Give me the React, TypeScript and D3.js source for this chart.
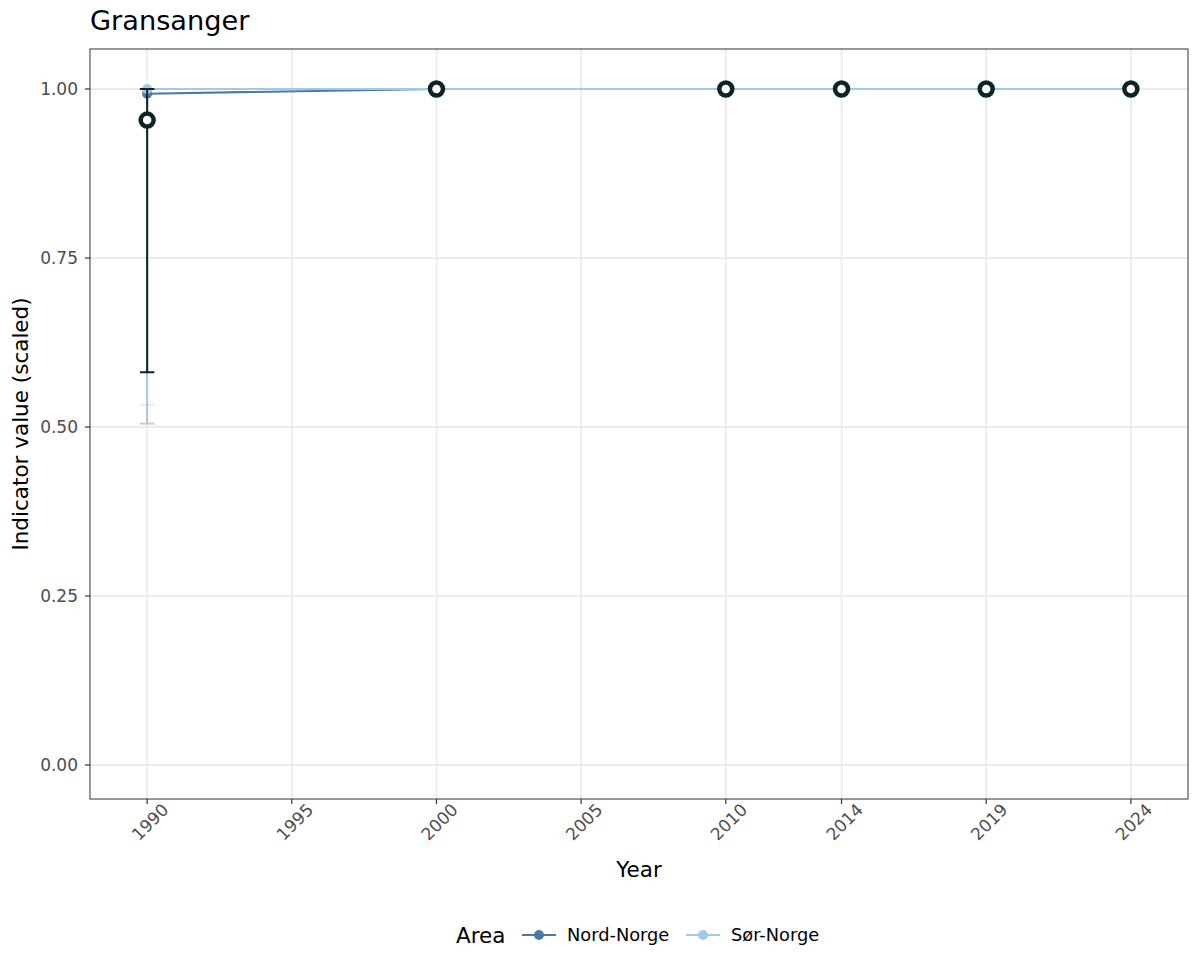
import React from "react";
import * as d3 from "d3";

const title = "Gransanger";
const years = [1990, 2000, 2010, 2014, 2019, 2024];
const xTicks = [1990, 1995, 2000, 2005, 2010, 2014, 2019, 2024];
const yTicks = [0, 0.25, 0.5, 0.75, 1.0];

const overallValue = [0.954, 1, 1, 1, 1, 1];
const overallLow = [0.581, 1, 1, 1, 1, 1];
const overallHigh = [1, 1, 1, 1, 1, 1];

const nordValue = [0.993, 1, 1, 1, 1, 1];
const nordLow = [0.505, 1, 1, 1, 1, 1];
const nordHigh = [1, 1, 1, 1, 1, 1];

const sorValue = [1, 1, 1, 1, 1, 1];
const sorLow = [0.533, 1, 1, 1, 1, 1];
const sorHigh = [1, 1, 1, 1, 1, 1];

const areaNames = ["Nord-Norge", "Sør-Norge"];
const areaColors = ["#4e79a7", "#a0cbe8"];

const W = 1200;
const H = 975;
const panel = { left: 90, right: 1188, top: 49, bottom: 799 };
const font = "'DejaVu Sans', sans-serif";

export default function App() {
  const x = d3.scaleLinear().domain([1988.025, 2025.975]).range([panel.left, panel.right]);
  const y = d3.scaleLinear().domain([-34 / 676, 1 + 40 / 676]).range([panel.bottom, panel.top]);
  const capHalf = (x(1990.25) - x(1990));

  const series = [
    { name: areaNames[0], color: areaColors[0], v: nordValue, lo: nordLow, hi: nordHigh },
    { name: areaNames[1], color: areaColors[1], v: sorValue, lo: sorLow, hi: sorHigh },
  ];
  const line = d3.line<number>().x((_, i) => x(years[i])).y((d) => y(d));

  const errorBar = (i: number, lo: number[], hi: number[], color: string, sw: number, op: number, key: string) => {
    if (lo[i] === hi[i]) return null;
    const cx = x(years[i]);
    return (
      <g key={key} stroke={color} strokeWidth={sw} opacity={op}>
        <line x1={cx} x2={cx} y1={y(hi[i])} y2={y(lo[i])} />
        <line x1={cx - capHalf} x2={cx + capHalf} y1={y(hi[i])} y2={y(hi[i])} />
        <line x1={cx - capHalf} x2={cx + capHalf} y1={y(lo[i])} y2={y(lo[i])} />
      </g>
    );
  };

  return (
    <svg width={W} height={H} style={{ display: "block", position: "absolute", left: 0, top: 0 }} fontFamily={font}>
      <rect x={0} y={0} width={W} height={H} fill="#fff" />
      <text x={90} y={30} fontSize={27.2} fill="#000">{title}</text>

      {/* grid */}
      {yTicks.map((t) => (
        <line key={"gy" + t} x1={panel.left} x2={panel.right} y1={y(t)} y2={y(t)} stroke="#ebebeb" strokeWidth={1.8} />
      ))}
      {xTicks.map((t) => (
        <line key={"gx" + t} x1={x(t)} x2={x(t)} y1={panel.top} y2={panel.bottom} stroke="#ebebeb" strokeWidth={1.8} />
      ))}

      {/* colored error bars */}
      {series.map((s, si) => years.map((_, i) => errorBar(i, s.lo, s.hi, s.color, 2, 0.35, `e${si}-${i}`)))}
      {/* colored lines */}
      {series.map((s, si) => (
        <path key={"l" + si} d={line(s.v) || ""} fill="none" stroke={s.color} strokeWidth={2.2} />
      ))}
      {series.map((s, si) => years.map((yr, i) => (
        <circle key={`p${si}-${i}`} cx={x(yr)} cy={y(s.v[i])} r={5} fill={s.color} />
      )))}

      {/* overall */}
      {years.map((_, i) => errorBar(i, overallLow, overallHigh, "#0d2424", 2, 1, `eo-${i}`))}
      {years.map((yr, i) => (
        <circle key={`po-${i}`} cx={x(yr)} cy={y(overallValue[i])} r={6.5} fill="#fff" stroke="#0d2424" strokeWidth={4.5} />
      ))}

      {/* border */}
      <rect x={panel.left} y={panel.top} width={panel.right - panel.left} height={panel.bottom - panel.top} fill="none" stroke="#333" strokeWidth={1} />

      {/* y axis */}
      {yTicks.map((t) => (
        <g key={"ty" + t}>
          <line x1={panel.left - 5} x2={panel.left} y1={y(t)} y2={y(t)} stroke="#333" strokeWidth={1.2} />
          <text x={panel.left - 12} y={y(t)} dy="0.35em" textAnchor="end" fontSize={17} fill="#4d4d4d">{t.toFixed(2)}</text>
        </g>
      ))}
      <text transform={`translate(28,${(panel.top + panel.bottom) / 2}) rotate(-90)`} textAnchor="middle" fontSize={21.5} fill="#000">Indicator value (scaled)</text>

      {/* x axis */}
      {xTicks.map((t) => (
        <g key={"tx" + t}>
          <line x1={x(t)} x2={x(t)} y1={panel.bottom} y2={panel.bottom + 5} stroke="#333" strokeWidth={1.2} />
          <text transform={`translate(${x(t) + 3},${panel.bottom + 23}) rotate(-45)`} textAnchor="middle" dy="0.35em" fontSize={17} fill="#4d4d4d">{t}</text>
        </g>
      ))}
      <text x={(panel.left + panel.right) / 2} y={877} textAnchor="middle" fontSize={21.5} fill="#000">Year</text>

      {/* legend */}
      <text x={456} y={943} fontSize={21.5} fill="#000">Area</text>
      {series.map((s, si) => {
        const kx = si === 0 ? 522 : 686;
        return (
          <g key={"lg" + si}>
            <line x1={kx} x2={kx + 34} y1={935} y2={935} stroke={s.color} strokeWidth={2.2} />
            <circle cx={kx + 17} cy={935} r={5} fill={s.color} />
            <text x={kx + 45} y={935} dy="0.35em" fontSize={17.8} fill="#000">{s.name}</text>
          </g>
        );
      })}
    </svg>
  );
}
